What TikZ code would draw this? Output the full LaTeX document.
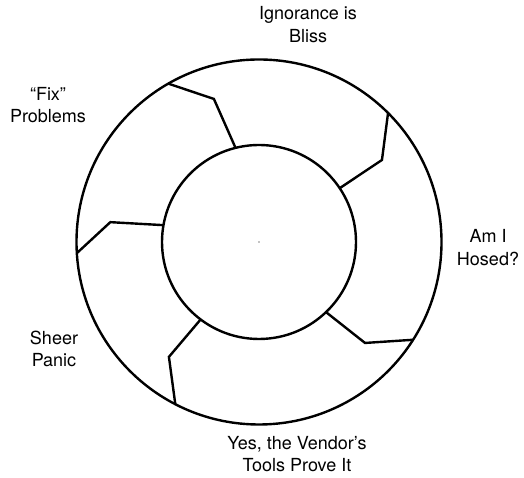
\documentclass[tikz,border=0pt]{standalone}
\usepackage{fontspec}
\setmainfont{TeX Gyre Heros}
\begin{document}
\begin{tikzpicture}[x=1pt,y=1pt,
  ring/.style={line width=2.4pt, draw=black},
  divider/.style={line width=2.4pt, draw=black, line join=miter},
  lbl/.style={anchor=base, inner sep=0pt, font=\fontsize{18}{22}\selectfont}]
\useasboundingbox (0,0) rectangle (524,478);
\coordinate (c) at (259,236);
\draw[ring] (c) circle (182.5);
\draw[ring] (c) circle (97);
\fill (c) circle (0.6);
\begin{scope}[shift={(c)}]
  \draw[divider] (104:97) -- (107.5:150) -- (119.8:182.5);
  \draw[divider] (33.7:97) -- (33.7:147.8) -- (45:182.5);
  \draw[divider] (-46.3:97) -- (-43.6:146.4) -- (-32.4:182.5);
  \draw[divider] (233:97) -- (231.9:146) -- (242.7:182.5);
  \draw[divider] (170:97) -- (172.4:150) -- (183.5:182.5);
\end{scope}
\node[lbl] (t1) at (308,458) {Ignorance is};
\node[lbl] (t2) at (308,435) {Bliss};
\node[lbl] (f1) at (48,377) {“Fix”};
\node[lbl] (f2) at (48,355) {Problems};
\node[lbl] (h1) at (488,235) {Am I};
\node[lbl] (h2) at (488,212) {Hosed?};
\node[lbl] (s1) at (54,133) {Sheer};
\node[lbl] (s2) at (54,111) {Panic};
\node[lbl] (y1) at (297,28) {Yes, the Vendor’s};
\node[lbl] (y2) at (297,6) {Tools Prove It};
\end{tikzpicture}
\end{document}
